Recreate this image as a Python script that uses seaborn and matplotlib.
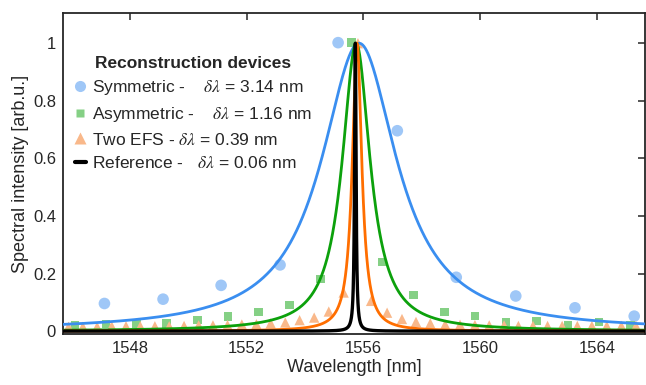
import numpy as np
import matplotlib
matplotlib.use("Agg")
import matplotlib.pyplot as plt
from matplotlib.lines import Line2D
import seaborn as sns

# Lorentzian fits: centre and FWHM per device (FWHM as given in legend)
devices = ["Symmetric", "Asymmetric", "Two EFS", "Reference"]
fwhm = [3.14, 1.16, 0.39, 0.06]
centre = [1555.85, 1555.75, 1555.78, 1555.72]
line_colors = ["#3a8ef0", "#0ca10c", "#ff6e00", "#000000"]
marker_colors = ["#9fc7f7", "#85d085", "#f9b88a"]

sym_x = [1547.12, 1549.13, 1551.12, 1553.14, 1555.13, 1557.16, 1559.18, 1561.22, 1563.25, 1565.28]
sym_y = [0.096, 0.111, 0.159, 0.230, 1.002, 0.696, 0.187, 0.122, 0.081, 0.052]

asym_x = [1546.11, 1547.18, 1548.22, 1549.25, 1550.31, 1551.36, 1552.41, 1553.46, 1554.53, 1555.59,
          1556.64, 1557.71, 1558.77, 1559.82, 1560.88, 1561.94, 1563.01, 1564.08, 1565.15]
asym_y = [0.022, 0.024, 0.024, 0.027, 0.039, 0.050, 0.067, 0.090, 0.181, 1.002,
          0.240, 0.126, 0.067, 0.052, 0.031, 0.035, 0.022, 0.031, 0.021]

efs_x = [1545.89, 1546.38, 1546.87, 1547.37, 1547.86, 1548.35, 1548.85, 1549.34, 1549.85, 1550.35,
         1550.84, 1551.34, 1551.83, 1552.33, 1552.82, 1553.32, 1553.81, 1554.31, 1554.81, 1555.32,
         1555.81,
         1556.26, 1556.81, 1557.32, 1557.80, 1558.29, 1558.80, 1559.31, 1559.82, 1560.31, 1560.82,
         1561.31, 1561.81, 1562.31, 1562.81, 1563.33, 1563.83, 1564.34, 1564.84, 1565.34]
efs_y = [0.015, 0.015, 0.015, 0.017, 0.017, 0.017, 0.017, 0.017, 0.018, 0.020,
         0.020, 0.021, 0.023, 0.024, 0.027, 0.030, 0.038, 0.047, 0.068, 0.134,
         1.0,
         0.105, 0.064, 0.042, 0.032, 0.027, 0.023, 0.022, 0.021, 0.020, 0.020,
         0.018, 0.018, 0.018, 0.018, 0.018, 0.018, 0.018, 0.018, 0.018]

gaps = ["    ", "    ", " ", "   "]

sns.set_style("white")
plt.rcParams['font.family'] = ['Liberation Sans', 'DejaVu Sans']
plt.rcParams['mathtext.fontset'] = 'stix'

fig = plt.figure(figsize=(6.46, 3.85), dpi=100)
ax = fig.add_axes([63 / 646, 51 / 385, 582 / 646, 321 / 385])

# markers underneath the fitted curves
sns.scatterplot(x=sym_x, y=sym_y, ax=ax, marker="o", s=70, color=marker_colors[0],
                edgecolor="none", linewidth=0, zorder=2)
sns.scatterplot(x=asym_x, y=asym_y, ax=ax, marker="s", s=38, color=marker_colors[1],
                edgecolor="none", linewidth=0, zorder=2)
sns.scatterplot(x=efs_x, y=efs_y, ax=ax, marker="^", s=55, color=marker_colors[2],
                edgecolor="none", linewidth=0, zorder=2)

wl = np.linspace(1545.5, 1566.0, 20501)
widths = [2.0, 2.0, 2.0, 2.4]
for c, w, col, lw in zip(centre, fwhm, line_colors, widths):
    g = w / 2
    sns.lineplot(x=wl, y=g**2 / ((wl - c)**2 + g**2), ax=ax, color=col, lw=lw,
                 estimator=None, sort=False, zorder=3)

ax.set_xlim(1545.7, 1565.65)
ax.set_ylim(-0.01, 1.105)
ax.set_xticks([1548, 1552, 1556, 1560, 1564])
ax.set_yticks([0, 0.2, 0.4, 0.6, 0.8, 1])
ax.set_yticklabels(["0", "0.2", "0.4", "0.6", "0.8", "1"])
ax.tick_params(direction="in", top=True, right=True, length=5, width=1.1,
               labelsize=12, color="#262626", labelcolor="#262626", pad=5)
for sp in ax.spines.values():
    sp.set_linewidth(1.3)
    sp.set_color("#262626")
ax.set_xlabel("Wavelength [nm]", fontsize=13, color="#262626", labelpad=2)
ax.set_ylabel("Spectral intensity [arb.u.]", fontsize=13, color="#262626", labelpad=3)

handles = [
    Line2D([], [], marker="o", ls="none", ms=8, color=marker_colors[0], mec="none"),
    Line2D([], [], marker="s", ls="none", ms=6, color=marker_colors[1], mec="none"),
    Line2D([], [], marker="^", ls="none", ms=8, color=marker_colors[2], mec="none"),
    Line2D([], [], color="black", lw=3),
]
labels = [f"{d} -{gp}$\\delta\\lambda$ = {f:.2f} nm" for d, gp, f in zip(devices, gaps, fwhm)]
leg = ax.legend(handles, labels, title="Reconstruction devices", loc="upper left",
                bbox_to_anchor=(0.0, 0.905), frameon=False, fontsize=12.5,
                handlelength=0.6, handletextpad=0.35, labelspacing=0.44, borderaxespad=0.3)
leg.get_title().set_fontweight("bold")
leg.get_title().set_fontsize(12.5)

fig.savefig("out.png", dpi=100)
